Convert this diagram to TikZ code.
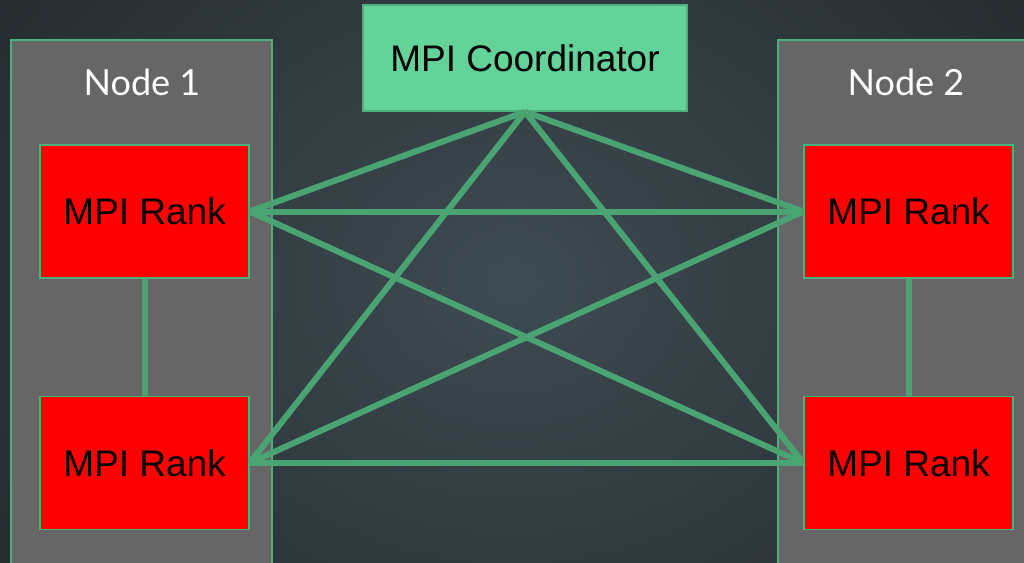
\documentclass[tikz,border=0pt]{standalone}
\usepackage{fontspec}
\setmainfont{Liberation Sans}
\newfontfamily\labelfont{Lato}
\definecolor{bgdark}{HTML}{22282A}
\definecolor{bglight}{HTML}{3E4B52}
\definecolor{linkgreen}{HTML}{4AA373}
\definecolor{edgegreen}{HTML}{4CAF7D}
\definecolor{coordfill}{HTML}{63D399}
\definecolor{hostgray}{HTML}{666666}
\definecolor{rankred}{HTML}{FF0000}
\tikzset{
  host/.style={draw=edgegreen, line width=1.5pt, fill=hostgray},
  rank/.style={draw=edgegreen, line width=1.5pt, fill=rankred, minimum width=209pt, minimum height=133pt, inner sep=0pt, font=\fontsize{37}{40}\selectfont, text=black},
  coord/.style={draw=edgegreen, line width=1.5pt, fill=coordfill, minimum width=324pt, minimum height=106pt, inner sep=0pt, font=\fontsize{37}{40}\selectfont, text=black},
  hostlabel/.style={font=\labelfont\fontsize{36}{40}\selectfont, text=white},
  link/.style={draw=linkgreen, line width=6pt}
}
\begin{document}
\begin{tikzpicture}[x=1pt, y=-1pt]
  \useasboundingbox (0,0) rectangle (1024,562);
  \clip (0,0) rectangle (1024,562);
  % background
  \shade[inner color=bglight, outer color=bgdark] (-200,-300) rectangle (1224,862);
  % hosts
  \path[host] (11,40) rectangle (272,580);
  \path[host] (778,40) rectangle (1040,580);
  \node[hostlabel] (h1) at (142,82) {Node 1};
  \node[hostlabel] (h2) at (906,82) {Node 2};
  % coordinator and ranks
  \node[coord] (c) at (525,58) {MPI Coordinator};
  \node[rank] (l1) at (144.5,211.5) {MPI Rank};
  \node[rank] (l2) at (144.5,463) {MPI Rank};
  \node[rank] (r1) at (908.5,211.5) {MPI Rank};
  \node[rank] (r2) at (908.5,463) {MPI Rank};
  % links
  \draw[link] (c.south) -- (l1.east);
  \draw[link] (c.south) -- (l2.east);
  \draw[link] (c.south) -- (r1.west);
  \draw[link] (c.south) -- (r2.west);
  \draw[link] (l1.east) -- (r1.west);
  \draw[link] (l1.east) -- (r2.west);
  \draw[link] (l2.east) -- (r1.west);
  \draw[link] (l2.east) -- (r2.west);
  \draw[link] (l1.south) -- (l2.north);
  \draw[link] (r1.south) -- (r2.north);
\end{tikzpicture}
\end{document}
